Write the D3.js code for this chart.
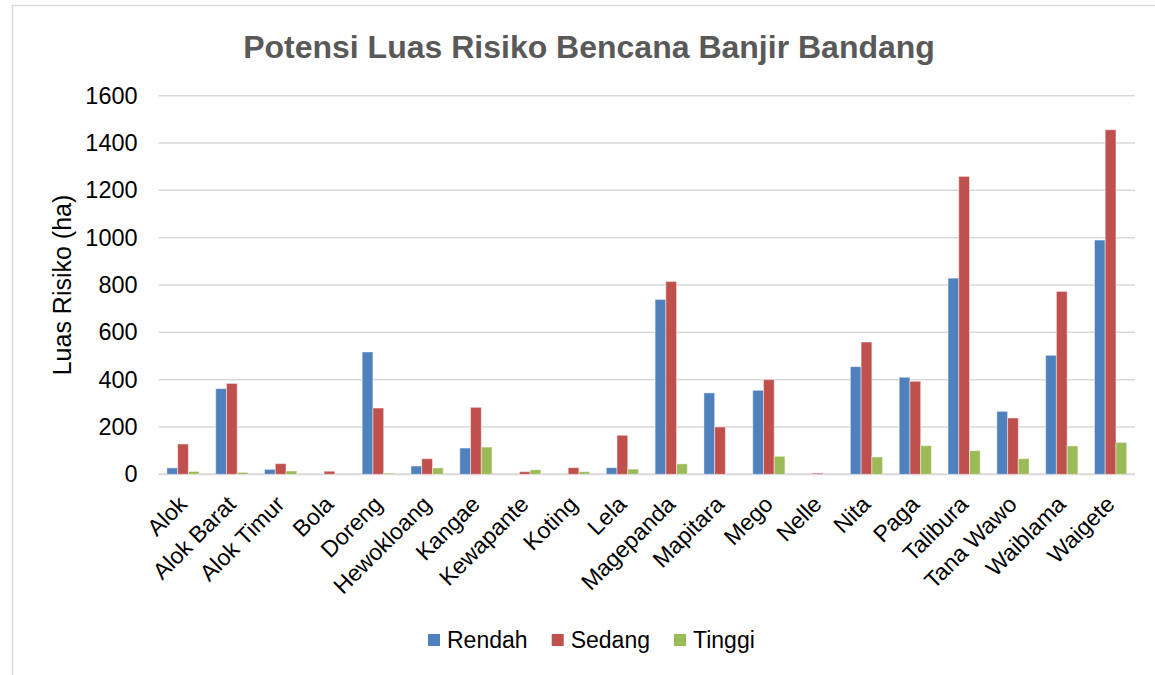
<!DOCTYPE html>
<html>
<head>
<meta charset="utf-8">
<script src="https://cdn.jsdelivr.net/npm/d3@7"></script>
<style>
    body { margin: 0; background: #fff; }
    svg { display: block; font-family: "Liberation Sans", Arial, sans-serif; }
</style>
</head>
<body>
<div id="chart"></div>
<script>
// data
const categories = ["Alok", "Alok Barat", "Alok Timur", "Bola", "Doreng", "Hewokloang", "Kangae", "Kewapante",
    "Koting", "Lela", "Magepanda", "Mapitara", "Mego", "Nelle", "Nita", "Paga", "Talibura", "Tana Wawo",
    "Waiblama", "Waigete"];
const seriesNames = ["Rendah", "Sedang", "Tinggi"];
const rendah = [27, 362, 21, 0, 517, 35, 111, 0, 0, 28, 739, 344, 355, 0, 455, 410, 829, 266, 503, 990];
const sedang = [128, 384, 45, 13, 280, 66, 283, 11, 28, 165, 815, 200, 400, 5, 559, 393, 1259, 238, 773, 1456];
const tinggi = [12, 8, 14, 0, 5, 27, 115, 19, 11, 22, 44, 0, 76, 0, 73, 121, 100, 66, 120, 135];
const yTicks = [0, 200, 400, 600, 800, 1000, 1200, 1400, 1600];

const colors = ["#4f81bd", "#c0504d", "#9bbb59"];
const seriesValues = [rendah, sedang, tinggi];

const width = 1155, height = 675;
const margin = { left: 158.6, right: 20, top: 95.7, bottom: 200.7 };

const svg = d3.select("#chart").append("svg")
    .attr("width", width)
    .attr("height", height);

// chart frame
svg.append("rect")
    .attr("x", 12.5).attr("y", 5.5)
    .attr("width", 1160).attr("height", 690)
    .attr("fill", "#fff")
    .attr("stroke", "#d9d9d9")
    .attr("stroke-width", 1.5);

const x0 = d3.scaleBand()
    .domain(categories)
    .range([margin.left, width - margin.right])
    .paddingInner(0.34)
    .paddingOuter(0.17);

const x1 = d3.scaleBand()
    .domain(seriesNames)
    .range([0, x0.bandwidth()]);

const y = d3.scaleLinear()
    .domain([0, 1600])
    .range([height - margin.bottom, margin.top]);

// gridlines
svg.append("g")
    .selectAll("line")
    .data(yTicks)
    .join("line")
    .attr("x1", margin.left)
    .attr("x2", width - margin.right)
    .attr("y1", d => y(d))
    .attr("y2", d => y(d))
    .attr("stroke", "#d9d9d9")
    .attr("stroke-width", d => d === 0 ? 2 : 1.5);

// y axis labels
const yAxis = svg.append("g")
    .attr("transform", "translate(" + (margin.left - 10) + ",0)")
    .call(d3.axisLeft(y).tickValues(yTicks).tickSize(0).tickPadding(11).tickFormat(d3.format("d")));
yAxis.select(".domain").remove();
yAxis.selectAll("text")
    .attr("font-size", 23.5)
    .attr("fill", "#000")
    .attr("font-family", "Liberation Sans, Arial, sans-serif");

// bars
const groups = svg.append("g")
    .selectAll("g")
    .data(categories)
    .join("g")
    .attr("transform", d => "translate(" + x0(d) + ",0)");

groups.selectAll("rect")
    .data((d, i) => seriesNames.map((s, k) => ({ key: s, value: seriesValues[k][i], k: k })))
    .join("rect")
    .filter(d => d.value > 0)
    .attr("x", d => x1(d.key))
    .attr("y", d => y(d.value))
    .attr("width", x1.bandwidth())
    .attr("height", d => y(0) - y(d.value))
    .attr("fill", d => colors[d.k])
    .attr("stroke", "rgba(255,255,255,0.45)")
    .attr("stroke-width", 1);

// x axis labels
const xAxis = svg.append("g")
    .attr("transform", "translate(0," + y(0) + ")")
    .call(d3.axisBottom(x0).tickSize(0).tickPadding(0));
xAxis.select(".domain").remove();
xAxis.selectAll("text")
    .attr("font-size", 23)
    .attr("fill", "#000")
    .attr("font-family", "Liberation Sans, Arial, sans-serif")
    .attr("text-anchor", "end")
    .attr("dy", "0.7em")
    .attr("transform", "translate(-6,20) rotate(-45)");

// title
svg.append("text")
    .attr("x", 589)
    .attr("y", 58)
    .attr("text-anchor", "middle")
    .attr("font-size", 32)
    .attr("font-weight", "bold")
    .attr("fill", "#595959")
    .text("Potensi Luas Risiko Bencana Banjir Bandang");

// y axis title
svg.append("text")
    .attr("transform", "translate(71," + ((y(0) + y(1600)) / 2) + ") rotate(-90)")
    .attr("text-anchor", "middle")
    .attr("font-size", 25)
    .attr("fill", "#000")
    .text("Luas Risiko (ha)");

// legend
const legendX = [428, 551.7, 674];
const legend = svg.append("g")
    .selectAll("g")
    .data(seriesNames)
    .join("g")
    .attr("transform", (d, i) => "translate(" + legendX[i] + ",634)");
legend.append("rect")
    .attr("width", 12).attr("height", 12)
    .attr("fill", (d, i) => colors[i]);
legend.append("text")
    .attr("x", 19)
    .attr("y", 6)
    .attr("dy", "0.36em")
    .attr("font-size", 23)
    .attr("fill", "#000")
    .text(d => d);
</script>
</body>
</html>
